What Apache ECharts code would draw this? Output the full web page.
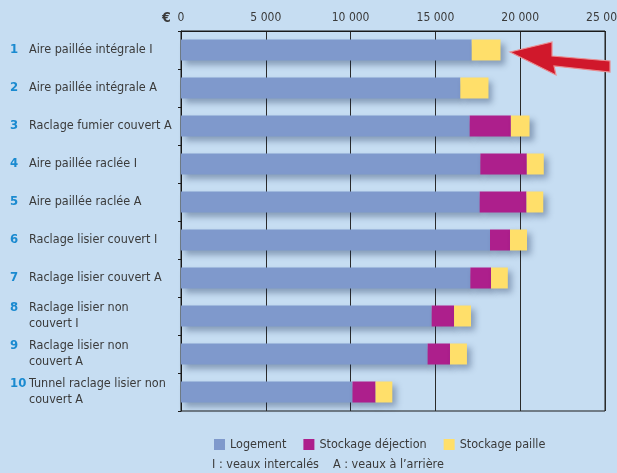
<!DOCTYPE html>
<html>
<head>
<meta charset="utf-8">
<script src="https://cdn.jsdelivr.net/npm/echarts@6/dist/echarts.min.js"></script>
<style>
  html, body { margin: 0; padding: 0; background: #c6ddf2; }
  #chart { width: 617px; height: 473px; }
</style>
</head>
<body>
<div id="chart"></div>
<script>
const categoryNumbers = ['1', '2', '3', '4', '5', '6', '7', '8', '9', '10']
const categoryNames = [
  'Aire paillée intégrale I',
  'Aire paillée intégrale A',
  'Raclage fumier couvert A',
  'Aire paillée raclée I',
  'Aire paillée raclée A',
  'Raclage lisier couvert I',
  'Raclage lisier couvert A',
  'Raclage lisier non\ncouvert I',
  'Raclage lisier non\ncouvert A',
  'Tunnel raclage lisier non\ncouvert A'
]
const logement = [17140, 16470, 17020, 17650, 17610, 18220, 17060, 14780, 14540, 10110]
const stockageDejection = [0, 0, 2430, 2740, 2760, 1180, 1220, 1320, 1320, 1360]
const stockagePaille = [1700, 1660, 1100, 1000, 990, 1000, 990, 1000, 1000, 990]
const xTicks = [0, 5000, 10000, 15000, 20000, 25000]

const FONT = '"DejaVu Sans Condensed", "DejaVu Sans", sans-serif'
const TEXT = '#3a3a3a'

const chart = echarts.init(document.getElementById('chart'))

function fmt(v) {
  return String(v).replace(/\B(?=(\d{3})+(?!\d))/g, ' ')
}

// rich label: blue number + indented text lines
const yLabels = categoryNames.map((name, i) => {
  const lines = name.split('\n')
  return lines.map((l, j) => (j === 0 ? `{n|${categoryNumbers[i]}}` : '{n|}') + `{t|${l}}`).join('\n')
})

const barShadow = {
  shadowBlur: 6,
  shadowOffsetX: 4,
  shadowOffsetY: 4,
  shadowColor: 'rgba(20, 40, 80, 0.35)'
}

chart.setOption({
  backgroundColor: '#c6ddf2',
  textStyle: { fontFamily: FONT },
  grid: {
    show: true,
    left: 181,
    right: 12,
    top: 31,
    bottom: 62,
    outerBoundsMode: 'none',
    containLabel: false,
    borderColor: '#1a1a1a',
    borderWidth: 1,
    backgroundColor: 'transparent'
  },
  legend: {
    left: 209,
    top: 433,
    itemWidth: 11,
    itemHeight: 11,
    itemGap: 17,
    icon: 'rect',
    textStyle: { color: TEXT, fontSize: 12.5, fontFamily: FONT },
    data: ['Logement', 'Stockage déjection', 'Stockage paille']
  },
  xAxis: {
    type: 'value',
    position: 'top',
    min: 0,
    max: xTicks[xTicks.length - 1],
    interval: xTicks[1] - xTicks[0],
    axisLine: { show: true, lineStyle: { color: '#1a1a1a' } },
    axisTick: { show: false },
    splitLine: { show: true, lineStyle: { color: '#2a2a2a', width: 1 } },
    axisLabel: {
      color: TEXT,
      fontSize: 12,
      margin: 7,
      fontFamily: FONT,
      formatter: v => fmt(v)
    }
  },
  yAxis: {
    type: 'category',
    inverse: true,
    data: yLabels,
    axisLine: { show: true, lineStyle: { color: '#1a1a1a' } },
    axisTick: { show: true, length: 3, lineStyle: { color: '#1a1a1a' } },
    axisLabel: {
      align: 'left',
      margin: 171,
      color: TEXT,
      fontFamily: FONT,
      rich: {
        n: { width: 19, color: '#1a8ad0', fontWeight: 'bold', fontSize: 13, fontFamily: FONT },
        t: { color: TEXT, fontSize: 12.5, lineHeight: 16, fontFamily: FONT }
      }
    }
  },
  series: [
    {
      name: 'Logement',
      type: 'bar',
      stack: 'total',
      barWidth: 21,
      itemStyle: Object.assign({ color: '#7f99cc' }, barShadow),
      data: logement
    },
    {
      name: 'Stockage déjection',
      type: 'bar',
      stack: 'total',
      barWidth: 21,
      itemStyle: Object.assign({ color: '#ad1f8c' }, barShadow),
      data: stockageDejection
    },
    {
      name: 'Stockage paille',
      type: 'bar',
      stack: 'total',
      barWidth: 21,
      itemStyle: Object.assign({ color: '#ffdf6a' }, barShadow),
      data: stockagePaille
    }
  ],
  graphic: [
    {
      type: 'text', left: 162, top: 11,
      style: { text: '€', fill: TEXT, font: `bold 14px ${FONT}` }
    },
    {
      type: 'text', left: 212, top: 458,
      style: { text: 'I : veaux intercalés', fill: TEXT, font: `12.5px ${FONT}` }
    },
    {
      type: 'text', left: 333, top: 458,
      style: { text: 'A : veaux à l’arrière', fill: TEXT, font: `12.5px ${FONT}` }
    },
    {
      // red annotation arrow pointing at bar 1
      type: 'polygon',
      z: 100,
      shape: {
        points: [[510, 52], [552, 42], [552, 56], [610, 61], [610, 72], [554, 66], [556, 75]]
      },
      style: { fill: '#d0182b', stroke: '#e98c90', lineWidth: 1.2 }
    }
  ]
})
</script>
</body>
</html>
